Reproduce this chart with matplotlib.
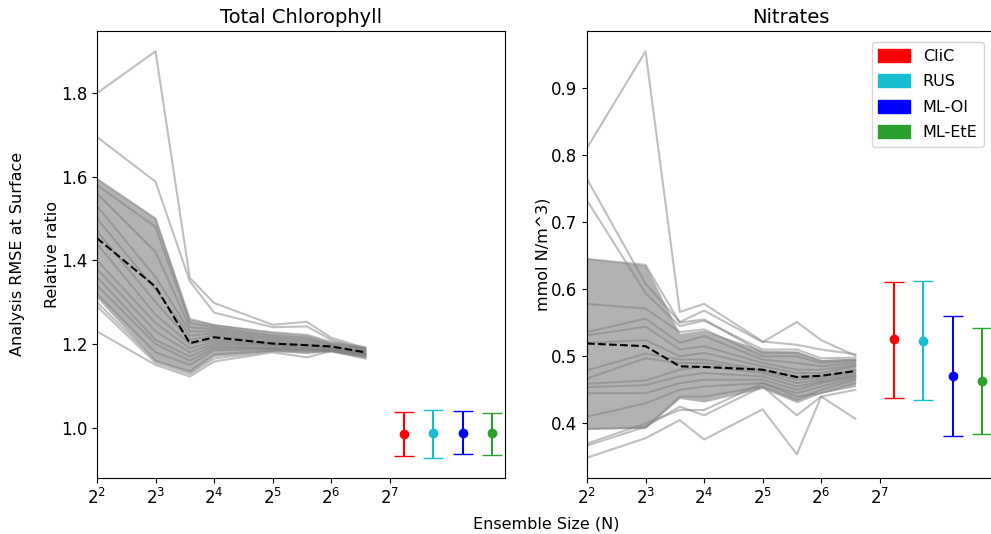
import numpy as np
import matplotlib
matplotlib.use("Agg")
import matplotlib.pyplot as plt
import matplotlib.patches as mpatches

# tamaños de ensemble
N = [4, 8, 12, 16, 32, 48, 64, 96]

# --- Clorofila total (ratio relativo) ---
chl_miembros = [
    [1.80, 1.90, 1.358, 1.298, 1.246, 1.253, 1.215, 1.190],
    [1.695, 1.588, 1.350, 1.275, 1.240, 1.242, 1.210, 1.185],
    [1.595, 1.500, 1.260, 1.245, 1.228, 1.222, 1.205, 1.192],
    [1.580, 1.480, 1.250, 1.240, 1.220, 1.215, 1.200, 1.190],
    [1.560, 1.420, 1.240, 1.235, 1.215, 1.210, 1.198, 1.185],
    [1.530, 1.360, 1.230, 1.230, 1.210, 1.205, 1.195, 1.183],
    [1.500, 1.330, 1.220, 1.225, 1.205, 1.200, 1.190, 1.180],
    [1.470, 1.300, 1.210, 1.220, 1.200, 1.198, 1.190, 1.178],
    [1.440, 1.270, 1.200, 1.210, 1.200, 1.195, 1.188, 1.177],
    [1.400, 1.250, 1.190, 1.205, 1.198, 1.190, 1.187, 1.176],
    [1.380, 1.230, 1.180, 1.200, 1.195, 1.190, 1.186, 1.175],
    [1.360, 1.210, 1.170, 1.195, 1.190, 1.188, 1.185, 1.174],
    [1.340, 1.200, 1.160, 1.190, 1.190, 1.185, 1.184, 1.172],
    [1.320, 1.180, 1.150, 1.185, 1.188, 1.183, 1.183, 1.170],
    [1.300, 1.160, 1.135, 1.175, 1.185, 1.180, 1.182, 1.168],
    [1.290, 1.155, 1.128, 1.165, 1.183, 1.178, 1.185, 1.170],
    [1.230, 1.150, 1.122, 1.158, 1.180, 1.168, 1.183, 1.165],
]
chl_banda_inf = [1.310, 1.158, 1.131, 1.170, 1.183, 1.183, 1.186, 1.174]
chl_banda_sup = [1.595, 1.501, 1.260, 1.248, 1.229, 1.222, 1.205, 1.193]
chl_mediana = [1.453, 1.337, 1.202, 1.216, 1.201, 1.197, 1.194, 1.180]

# --- Nitratos (mmol N/m^3) ---
nit_miembros = [
    [0.810, 0.954, 0.566, 0.578, 0.522, 0.517, 0.510, 0.503],
    [0.764, 0.608, 0.551, 0.568, 0.521, 0.551, 0.524, 0.501],
    [0.732, 0.594, 0.545, 0.553, 0.510, 0.510, 0.497, 0.498],
    [0.645, 0.636, 0.550, 0.555, 0.505, 0.505, 0.493, 0.495],
    [0.578, 0.571, 0.536, 0.540, 0.500, 0.500, 0.490, 0.493],
    [0.536, 0.556, 0.520, 0.530, 0.495, 0.490, 0.485, 0.490],
    [0.531, 0.544, 0.510, 0.515, 0.490, 0.480, 0.480, 0.487],
    [0.520, 0.524, 0.500, 0.505, 0.485, 0.475, 0.475, 0.485],
    [0.479, 0.504, 0.495, 0.495, 0.480, 0.470, 0.470, 0.480],
    [0.467, 0.497, 0.490, 0.490, 0.478, 0.465, 0.468, 0.478],
    [0.459, 0.464, 0.480, 0.485, 0.475, 0.460, 0.465, 0.475],
    [0.454, 0.457, 0.470, 0.475, 0.470, 0.455, 0.462, 0.472],
    [0.445, 0.445, 0.460, 0.465, 0.465, 0.450, 0.460, 0.470],
    [0.410, 0.430, 0.450, 0.455, 0.460, 0.445, 0.455, 0.468],
    [0.392, 0.394, 0.440, 0.440, 0.455, 0.435, 0.450, 0.465],
    [0.370, 0.400, 0.420, 0.420, 0.460, 0.440, 0.445, 0.460],
    [0.367, 0.395, 0.425, 0.412, 0.455, 0.412, 0.440, 0.407],
    [0.349, 0.378, 0.405, 0.376, 0.421, 0.354, 0.440, 0.450],
]
nit_banda_inf = [0.391, 0.393, 0.437, 0.432, 0.452, 0.431, 0.445, 0.455]
nit_banda_sup = [0.646, 0.636, 0.534, 0.539, 0.509, 0.508, 0.495, 0.497]
nit_mediana = [0.519, 0.515, 0.485, 0.484, 0.480, 0.469, 0.471, 0.478]

# --- metodos (punto +- error) ---
metodos = ["CliC", "RUS", "ML-OI", "ML-EtE"]
colores = ["red", "tab:cyan", "blue", "tab:green"]
x_metodos = [152, 215, 304, 430]
chl_media = [0.985, 0.986, 0.988, 0.986]
chl_inf = [0.932, 0.928, 0.938, 0.934]
chl_sup = [1.037, 1.041, 1.039, 1.036]
nit_media = [0.525, 0.523, 0.470, 0.463]
nit_inf = [0.438, 0.435, 0.381, 0.384]
nit_sup = [0.611, 0.612, 0.560, 0.542]

plt.rcParams["font.size"] = 12

fig = plt.figure(figsize=(9.91, 5.34), dpi=100)
ax1 = fig.add_axes([97/991, 56/534, 408/991, 447/534])
ax2 = fig.add_axes([587/991, 56/534, 408/991, 447/534])


def panel(ax, miembros, b_inf, b_sup, mediana, media, e_inf, e_sup, titulo, ylab):
    for m in miembros:
        ax.plot(N, m, color="gray", alpha=0.5, lw=1.5)
    ax.fill_between(N, b_inf, b_sup, color="gray", alpha=0.6, lw=0)
    ax.plot(N, mediana, "k--", lw=1.5)
    for i in range(len(metodos)):
        err = [[media[i] - e_inf[i]], [e_sup[i] - media[i]]]
        ax.errorbar([x_metodos[i]], [media[i]], yerr=err, fmt="o", color=colores[i],
                    ms=6, capsize=7, elinewidth=1.5)
    ax.set_xscale("log", base=2)
    ax.set_xlim(4, 2**8.97)
    ax.set_xticks([4, 8, 16, 32, 64, 128])
    ax.minorticks_off()
    ax.set_title(titulo, fontsize=14)
    ax.set_ylabel(ylab, fontsize=11.5, labelpad=0.5)


panel(ax1, chl_miembros, chl_banda_inf, chl_banda_sup, chl_mediana,
      chl_media, chl_inf, chl_sup, "Total Chlorophyll", "Relative ratio")
panel(ax2, nit_miembros, nit_banda_inf, nit_banda_sup, nit_mediana,
      nit_media, nit_inf, nit_sup, "Nitrates", "mmol N/m^3)")
ax1.set_yticks([1.0, 1.2, 1.4, 1.6, 1.8])
ax2.set_yticks([0.4, 0.5, 0.6, 0.7, 0.8, 0.9])

parches = [mpatches.Patch(color=c, label=l) for c, l in zip(colores, metodos)]
ax2.legend(handles=parches, loc="upper right", fontsize=11.5, labelspacing=0.65,
           borderaxespad=0.7, handleheight=0.9)

fig.text(0.018, 0.525, "Analysis RMSE at Surface", rotation=90, ha="center", va="center",
         fontsize=11.5)
fig.text(0.551, 0.018, "Ensemble Size (N)", ha="center", va="center", fontsize=11.5)

fig.savefig("out.png", dpi=100)
